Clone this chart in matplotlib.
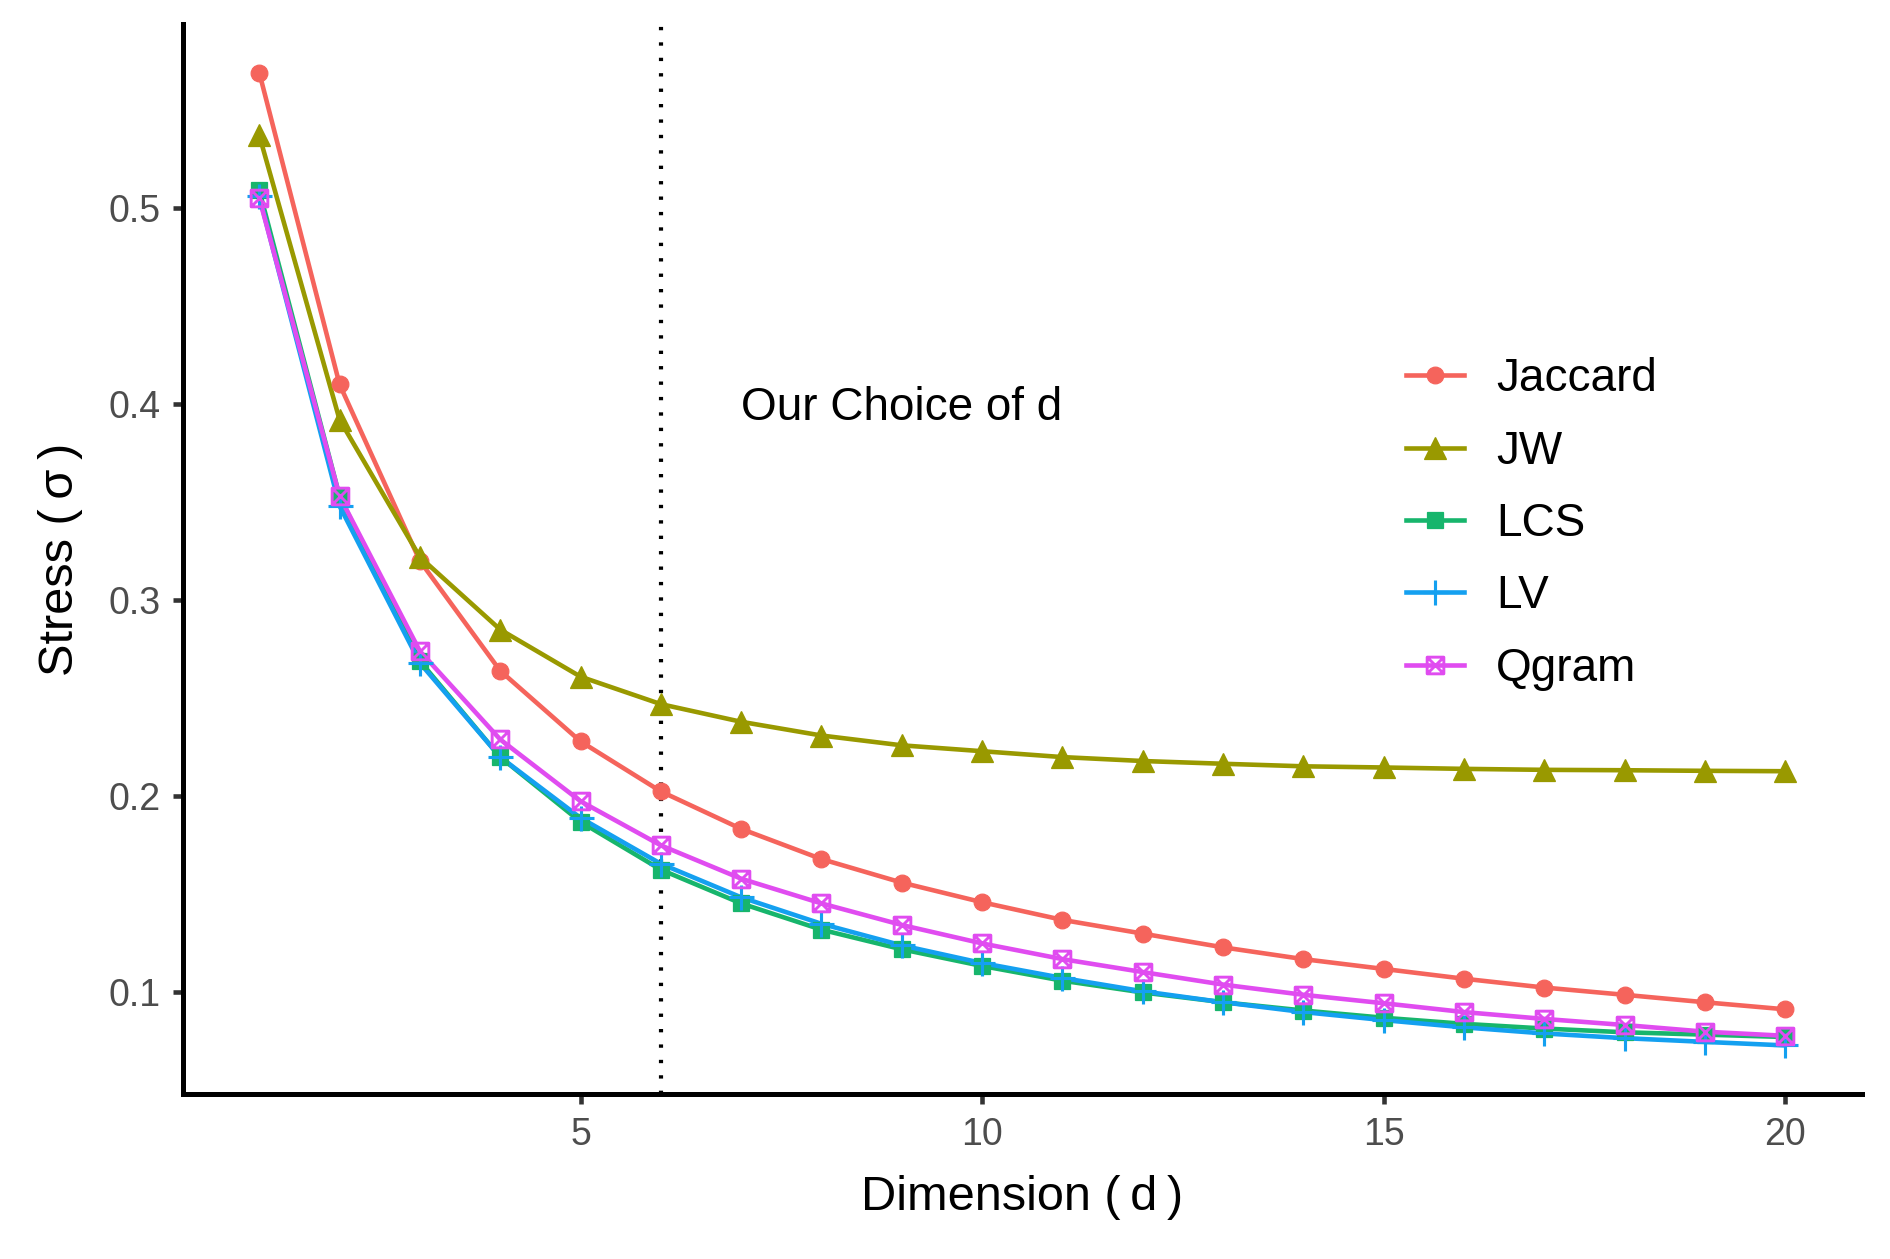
import matplotlib
matplotlib.use("Agg")
import matplotlib.pyplot as plt
from matplotlib.path import Path
import numpy as np

plt.rcParams['font.family'] = ['Liberation Sans', 'DejaVu Sans']

dims = list(range(1, 21))
jaccard = [0.569, 0.410, 0.320, 0.264, 0.228, 0.2025, 0.1834, 0.168, 0.156, 0.146,
           0.137, 0.130, 0.123, 0.117, 0.112, 0.107, 0.1025, 0.0988, 0.095, 0.0914]
jw = [0.537, 0.392, 0.322, 0.285, 0.261, 0.247, 0.238, 0.231, 0.226, 0.223,
      0.220, 0.218, 0.2166, 0.2153, 0.2147, 0.214, 0.2135, 0.2133, 0.213, 0.2128]
lcs = [0.509, 0.353, 0.269, 0.220, 0.187, 0.1626, 0.1454, 0.132, 0.122, 0.1135,
       0.106, 0.100, 0.095, 0.0908, 0.0871, 0.084, 0.0816, 0.0797, 0.0785, 0.0773]
lv = [0.506, 0.348, 0.268, 0.220, 0.189, 0.1656, 0.1485, 0.135, 0.124, 0.115,
      0.1074, 0.1006, 0.095, 0.090, 0.0859, 0.0822, 0.0791, 0.0767, 0.0748, 0.073]
qgram = [0.505, 0.353, 0.274, 0.229, 0.1975, 0.175, 0.158, 0.1454, 0.1344, 0.125,
         0.117, 0.1104, 0.104, 0.0988, 0.0945, 0.090, 0.0865, 0.0834, 0.080, 0.0779]

series_names = ["Jaccard", "JW", "LCS", "LV", "Qgram"]
series_values = [jaccard, jw, lcs, lv, qgram]
colors = ["#F5645C", "#999900", "#17B56C", "#14A0F0", "#E04CF0"]

choice_d = 6
annot_text = "Our Choice of d"
x_label = "Dimension (\u2009d\u2009)"
y_label = "Stress (\u2009σ\u2009)"
x_ticks = [5, 10, 15, 20]
y_ticks = [0.1, 0.2, 0.3, 0.4, 0.5]

# square-cross marker (ggplot shape 7)
sq_cross = Path([(-1, -1), (1, -1), (1, 1), (-1, 1), (-1, -1),
                 (-1, -1), (1, 1), (-1, 1), (1, -1)],
                [Path.MOVETO, Path.LINETO, Path.LINETO, Path.LINETO, Path.CLOSEPOLY,
                 Path.MOVETO, Path.LINETO, Path.MOVETO, Path.LINETO])

marker_styles = [
    dict(marker='o', markersize=4.0, markeredgewidth=0.3),
    dict(marker='^', markersize=5.3, markeredgewidth=0.3),
    dict(marker='s', markersize=3.8, markeredgewidth=0.3),
    dict(marker='+', markersize=6.0, markeredgewidth=0.75),
    dict(marker=sq_cross, markersize=4.0, markeredgewidth=0.7, markerfacecolor='none'),
]

fig = plt.figure(figsize=(6.3, 4.1967), dpi=300)
ax = fig.add_axes([0.0968, 0.131, 0.985 - 0.0968, 0.981 - 0.131])

lw = 1.1
for name, vals, c in zip(series_names, series_values, colors):
    ax.plot(dims, vals, color=c, lw=lw, zorder=2, solid_capstyle='butt')
handles = []
for name, vals, c, ms in zip(series_names, series_values, colors, marker_styles):
    kw = dict(ms)
    kw.setdefault('markerfacecolor', c)
    ax.plot(dims, vals, linestyle='none', color=c, markeredgecolor=c, zorder=3, **kw)
    h, = ax.plot([], [], color=c, lw=lw, markeredgecolor=c, **kw)
    h.set_label(name)
    handles.append(h)

ax.axvline(choice_d, color='black', lw=1.0, linestyle=(0, (0.8, 2.9)), dash_capstyle='butt', zorder=1)
ax.text(9, 0.398, annot_text, ha='center', va='center', fontsize=11, color='black')

ymin = min(min(v) for v in series_values)
ymax = max(max(v) for v in series_values)
yr = ymax - ymin
ax.set_ylim(ymin - 0.05 * yr, ymax + 0.05 * yr)
ax.set_xlim(1 - 0.05 * 19, 20 + 0.05 * 19)
ax.set_xticks(x_ticks)
ax.set_xticklabels([str(t) for t in x_ticks])
ax.set_yticks(y_ticks)
ax.set_yticklabels([f"{t:.1f}" for t in y_ticks])

for s in ['top', 'right']:
    ax.spines[s].set_visible(False)
for s in ['left', 'bottom']:
    ax.spines[s].set_linewidth(1.2)
    ax.spines[s].set_color('black')
ax.tick_params(axis='both', length=2.4, width=1.1, color='#333333', labelsize=9,
               labelcolor='#4D4D4D', pad=3)

ax.set_xlabel(x_label, fontsize=11.7, labelpad=5.5)
ax.set_ylabel(y_label, fontsize=11.7, labelpad=6)

leg = fig.legend(handles=handles, loc='center left', bbox_to_anchor=(1406 / 1890, 1 - 524 / 1259),
                 bbox_transform=fig.transFigure, frameon=False, fontsize=11,
                 handlelength=1.26, handletextpad=0.7, labelspacing=0.62,
                 borderpad=0, borderaxespad=0, numpoints=1)

fig.savefig("out.png", dpi=300)
